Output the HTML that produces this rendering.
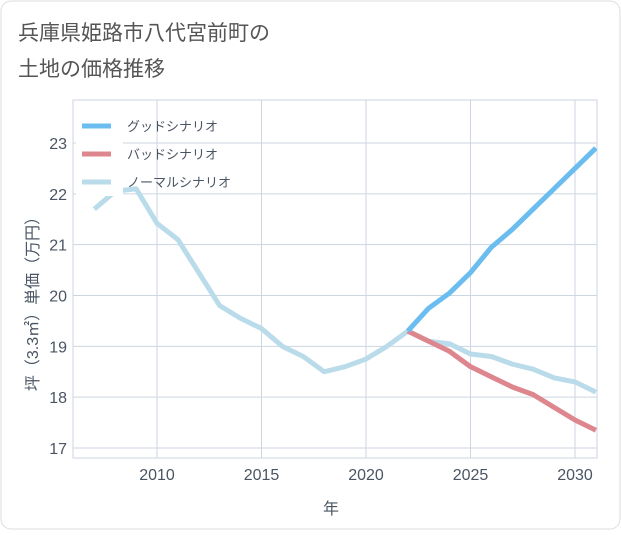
<!DOCTYPE html>
<html><head><meta charset="utf-8"><style>
body{margin:0;background:#fff;}
#wrap{position:relative;width:621px;height:530px;font-family:"Liberation Sans","Noto Sans CJK JP",sans-serif;}
</style></head><body>
<div id="wrap">
<svg id="svg" width="621" height="530" xmlns="http://www.w3.org/2000/svg">
<rect x="1" y="1" width="619" height="528" rx="10" fill="#fff" stroke="#ddd"/>
<text x="18" y="40" font-size="21" fill="#555">兵庫県姫路市八代宮前町の</text>
<text x="18" y="76" font-size="21" fill="#555">土地の価格推移</text>
<g id="grid"></g>
<g id="lines"></g>
<g id="legend"></g>
<text x="331" y="514" font-size="16" fill="#4a5563" text-anchor="middle">年</text>
<text transform="translate(38,300) rotate(-90)" font-size="16" fill="#4a5563" text-anchor="middle">坪（3.3㎡）単価（万円）</text>
</svg>
</div>
<script>
const years=[2007,2008,2009,2010,2011,2012,2013,2014,2015,2016,2017,2018,2019,2020,2021,2022,2023,2024,2025,2026,2027,2028,2029,2030,2031];
const normal=[21.7,22.05,22.1,21.42,21.1,20.45,19.8,19.55,19.35,19.0,18.8,18.5,18.6,18.75,19.0,19.3,19.1,19.05,18.85,18.8,18.65,18.55,18.38,18.3,18.1];
const goodYears=[2022,2023,2024,2025,2026,2027,2028,2029,2030,2031];
const good=[19.3,19.75,20.05,20.45,20.95,21.3,21.7,22.1,22.5,22.9];
const bad=[19.3,19.1,18.9,18.6,18.4,18.2,18.05,17.8,17.55,17.35];
const yTicks=[17,18,19,20,21,22,23];
const xTicks=[2010,2015,2020,2025,2030];
const NS="http://www.w3.org/2000/svg";
const L=73,R=597,T=100,B=458;
const xs=y=>157+(y-2010)*20.9;
const ys=v=>448-(v-17)*50.83;
function mk(t,a,p){const e=document.createElementNS(NS,t);for(const k in a)e.setAttribute(k,a[k]);p.appendChild(e);return e;}
const g=document.getElementById('grid');
mk('rect',{x:L,y:T,width:R-L,height:B-T,fill:'none',stroke:'#ccd6e0'},g);
yTicks.forEach(v=>{const l=mk('line',{x1:L,x2:R,y1:ys(v),y2:ys(v),stroke:'#ccd6e0'},g);


const t=mk('text',{x:L-6,y:ys(v)+6,'font-size':16,fill:'#4a5563','text-anchor':'end'},g);t.textContent=v;

});
xTicks.forEach(v=>{const l=mk('line',{x1:xs(v),x2:xs(v),y1:T,y2:B,stroke:'#ccd6e0'},g);


const t=mk('text',{x:xs(v),y:B+22,'font-size':16,fill:'#4a5563','text-anchor':'middle'},g);t.textContent=v;

});
const lg=document.getElementById('lines');
function line(xv,vals,c,name){const p=mk('polyline',{points:xv.map((y,i)=>xs(y)+','+ys(vals[i])).join(' '),fill:'none',stroke:c,'stroke-width':5,'stroke-linejoin':'round'},lg);

}
const clip=mk('clipPath',{id:'c'},document.getElementById('svg'));mk('rect',{x:L,y:T,width:R-L,height:B-T},clip);
lg.setAttribute('clip-path','url(#c)');
line(years,normal,'#badcea','normal-line');
line(goodYears,bad,'#de868e','bad-line');
line(goodYears,good,'#6bbdf0','good-line');
const leg=document.getElementById('legend');
mk('rect',{x:76,y:108,width:47,height:88,fill:'#fff'},leg);
[['グッドシナリオ','#6bbdf0'],['バッドシナリオ','#de868e'],['ノーマルシナリオ','#badcea']].forEach((d,i)=>{
const y=126+i*28;
const l=mk('line',{x1:82,x2:111,y1:y,y2:y,stroke:d[1],'stroke-width':5},leg);


const t=mk('text',{x:127,y:y+5,'font-size':13,fill:'#4a5563'},leg);t.textContent=d[0];

});
</script>
</body></html>
